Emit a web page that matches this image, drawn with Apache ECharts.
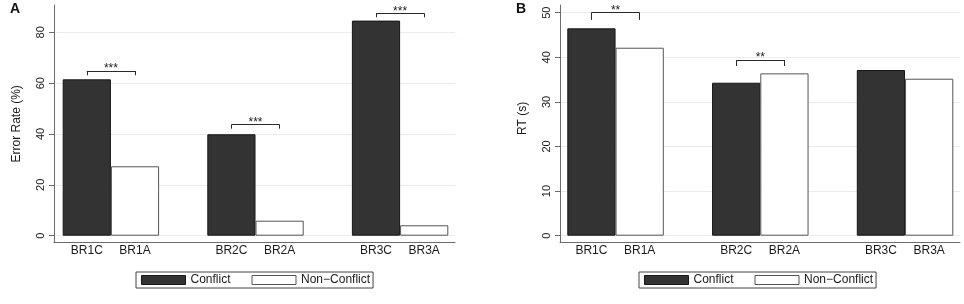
<!DOCTYPE html>
<html>
<head>
<meta charset="utf-8">
<script src="https://cdn.jsdelivr.net/npm/echarts@6/dist/echarts.min.js"></script>
<style>
  html, body { margin: 0; padding: 0; background: #fff; }
  #chart { width: 964px; height: 304px; }
</style>
</head>
<body>
<div id="chart"></div>
<script>
// x categories (blank slots keep the space between the bar pairs)
const categories = ["BR1C", "BR1A", " ", "BR2C", "BR2A", "  ", "BR3C", "BR3A"];
const conflictCats = ["BR1C", "BR2C", "BR3C"];
const nonConflictCats = ["BR1A", "BR2A", "BR3A"];

// panel A: error rate (%)
const errorConflict = [61.5, 39.9, 84.6];
const errorNonConflict = [27.3, 5.9, 4.1];

// panel B: RT (s)
const rtConflict = [46.5, 34.3, 37.15];
const rtNonConflict = [42.15, 36.4, 35.2];

// significance brackets: [left, right, bracket height, leg end, stars]
const errorSig = [
  ["BR1C", "BR1A", 64.8, 63.1, "***"],
  ["BR2C", "BR2A", 43.7, 42.1, "***"],
  ["BR3C", "BR3A", 87.5, 85.9, "***"],
];
const rtSig = [
  ["BR1C", "BR1A", 50.0, 48.4, "**"],
  ["BR2C", "BR2A", 39.4, 38.05, "**"],
];

const FONT = "'Liberation Sans', Arial, sans-serif";
const AXIS_GRAY = "#6b6b6b";
const TEXT = "#1a1a1a";

const grid = [];
const xAxis = [];
const yAxis = [];
const series = [];

function addPanel(p) {
  const g = grid.length;

  // outer frame: the two axis lines plus the axis title
  grid.push({ left: p.left, top: 5, width: p.width, height: 237.7 });
  xAxis.push({
    type: "value", gridIndex: g, min: 0, max: 1,
    axisLine: { show: true, onZero: false, lineStyle: { color: AXIS_GRAY } },
    axisTick: { show: false }, axisLabel: { show: false }, splitLine: { show: false },
  });
  yAxis.push({
    type: "value", gridIndex: g, min: 0, max: 1,
    name: p.yName, nameLocation: "middle", nameRotate: 90, nameGap: 31,
    nameTextStyle: { fontSize: 12, color: TEXT, fontFamily: FONT, padding: p.namePad },
    axisLine: { show: true, onZero: false, lineStyle: { color: AXIS_GRAY } },
    axisTick: { show: false }, axisLabel: { show: false }, splitLine: { show: false },
  });

  // tick labels + grid lines, from 0 up to the last labelled tick
  grid.push({ left: p.left, top: p.tickTop, width: p.width, height: 235.7 - p.tickTop });
  xAxis.push({ type: "value", gridIndex: g + 1, show: false });
  yAxis.push({
    type: "value", gridIndex: g + 1, min: 0, max: p.tickMax, interval: p.interval,
    axisLine: { show: false },
    axisTick: { show: true, length: 5, lineStyle: { color: AXIS_GRAY } },
    axisLabel: { rotate: 90, margin: 8, fontSize: 11, color: TEXT, fontFamily: FONT },
    splitLine: { show: true, lineStyle: { color: "#e6edef", width: 1 } },
  });

  // bars
  grid.push({ left: p.barsLeft, top: 5, width: p.barsWidth, height: 230.7 });
  xAxis.push({
    type: "category", gridIndex: g + 2, data: categories, offset: 7,
    axisLine: { show: false }, axisTick: { show: false },
    axisLabel: { interval: 0, margin: 2, fontSize: 12, color: TEXT, fontFamily: FONT },
  });
  yAxis.push({ type: "value", gridIndex: g + 2, min: 0, max: p.barMax, show: false });

  const marks = [];
  p.sig.forEach(([l, r, top, leg, stars]) => {
    const lab = {
      show: true, formatter: stars, position: "middle", distance: -4,
      fontSize: 12, color: TEXT, fontFamily: FONT,
    };
    marks.push([{ coord: [l, top], label: lab }, { coord: [r, top], label: lab }]);
    marks.push([{ coord: [l, leg] }, { coord: [l, top] }]);
    marks.push([{ coord: [r, leg] }, { coord: [r, top] }]);
  });

  series.push({
    name: "Conflict", type: "bar", xAxisIndex: g + 2, yAxisIndex: g + 2,
    barGap: "-100%", barCategoryGap: "0%",
    itemStyle: { color: "#333333", borderColor: "#161616", borderWidth: 1 },
    data: p.conflict.map((v, i) => [conflictCats[i], v]),
    markLine: {
      silent: true, symbol: ["none", "none"], animation: false,
      lineStyle: { color: "#2a2a2a", width: 1, type: "solid" },
      label: { show: false },
      data: marks,
    },
  });
  series.push({
    name: "Non\u2212Conflict", type: "bar", xAxisIndex: g + 2, yAxisIndex: g + 2,
    barGap: "-100%", barCategoryGap: "0%",
    itemStyle: { color: "#ffffff", borderColor: "#555555", borderWidth: 1 },
    data: p.nonConflict.map((v, i) => [nonConflictCats[i], v]),
  });
}

addPanel({
  left: 54, width: 401, barsLeft: 62.7, barsWidth: 385.6,
  tickTop: 32.3, tickMax: 80, interval: 20, barMax: 90.74,
  yName: "Error Rate (%)", namePad: [0, 0, 0, 0],
  conflict: errorConflict, nonConflict: errorNonConflict, sig: errorSig,
});
addPanel({
  left: 560, width: 400, barsLeft: 567.3, barsWidth: 386,
  tickTop: 12.7, tickMax: 50, interval: 10, barMax: 51.73,
  yName: "RT (s)", namePad: [0, 0, 0, 11],
  conflict: rtConflict, nonConflict: rtNonConflict, sig: rtSig,
});

function legendAt(left) {
  return {
    left: left, top: 272, orient: "horizontal", selectedMode: false,
    icon: "rect", itemWidth: 44, itemHeight: 9, itemGap: 21,
    padding: [2, 3, 2, 5], borderColor: "#444", borderWidth: 1, borderRadius: 0,
    textStyle: { fontSize: 12, color: TEXT, fontFamily: FONT },
    data: [
      { name: "Conflict", itemStyle: { color: "#333333", borderColor: "#161616", borderWidth: 1 } },
      { name: "Non\u2212Conflict", itemStyle: { color: "#ffffff", borderColor: "#555555", borderWidth: 1 } },
    ],
  };
}

const chart = echarts.init(document.getElementById("chart"));
chart.setOption({
  animation: false,
  backgroundColor: "#ffffff",
  title: [
    { text: "A", left: 10, top: 2, padding: 0, textStyle: { fontSize: 14, fontWeight: "bold", color: "#111", fontFamily: FONT } },
    { text: "B", left: 516, top: 2, padding: 0, textStyle: { fontSize: 14, fontWeight: "bold", color: "#111", fontFamily: FONT } },
  ],
  legend: [legendAt(136), legendAt(639)],
  grid: grid,
  xAxis: xAxis,
  yAxis: yAxis,
  series: series,
});
</script>
</body>
</html>
